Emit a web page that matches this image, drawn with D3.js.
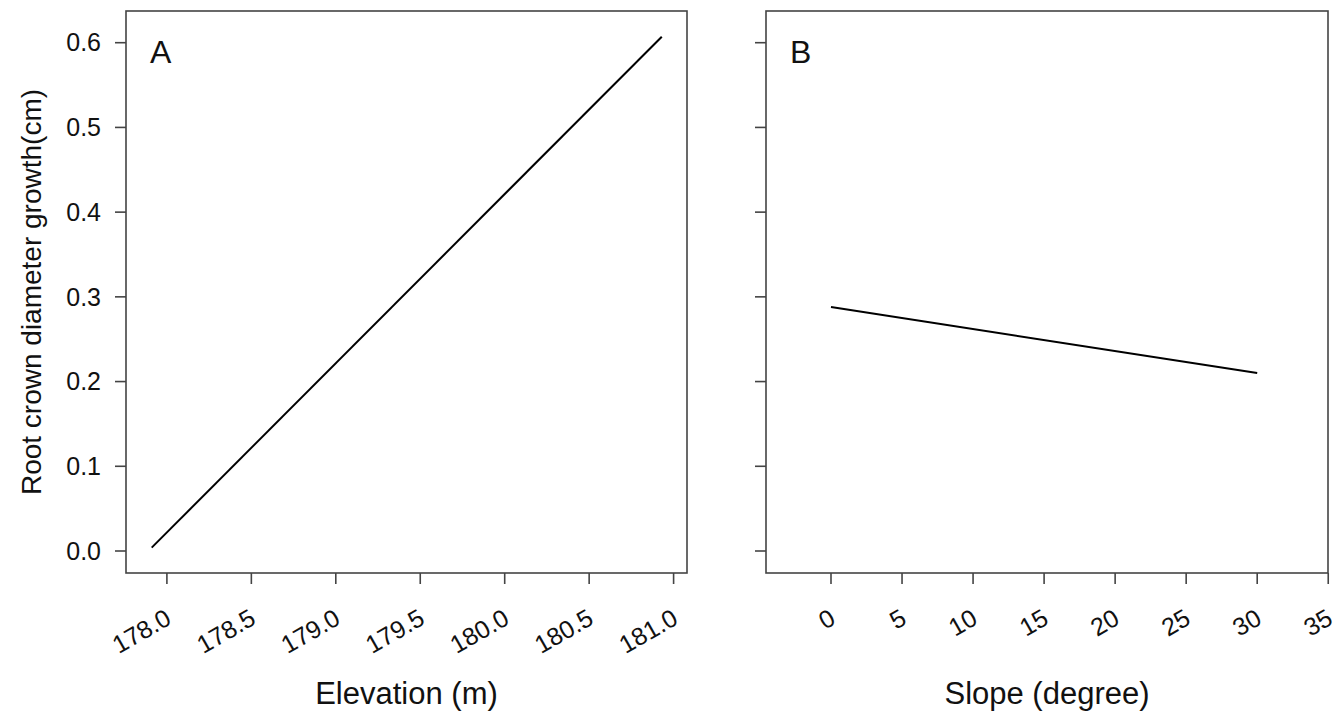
<!DOCTYPE html>
<html><head><meta charset="utf-8">
<script src="https://cdn.jsdelivr.net/npm/d3@7"></script>
<style>body{margin:0;background:#fff;} text{font-family:"Liberation Sans",Arial,sans-serif;fill:#111;}</style>
</head><body>
<svg id="c" width="1340" height="713"></svg>
<script>
// Data
const elevationX = [177.91, 180.93];
const elevationY = [0.004, 0.607];
const slopeX = [0, 30];
const slopeY = [0.288, 0.210];
const yTicks = [0.0, 0.1, 0.2, 0.3, 0.4, 0.5, 0.6];
const elevTicks = [178.0, 178.5, 179.0, 179.5, 180.0, 180.5, 181.0];
const slopeTicks = [0, 5, 10, 15, 20, 25, 30, 35];
const panelLabels = ["A", "B"];
const xTitles = ["Elevation (m)", "Slope (degree)"];
const yTitle = "Root crown diameter growth(cm)";

(function () {
const svg = d3.select("#c");
const plotTop = 11, plotBottom = 573;
const y = d3.scaleLinear().domain([0, 0.6]).range([551, 42.7]);

const panels = [
  {x0:126, x1:687, dom:[178.0, 181.0], rng:[166.9, 673.6], ticks:elevTicks, fmt:d3.format(".1f"), xs:elevationX, ys:elevationY, showY:true},
  {x0:766, x1:1328, dom:[0, 30], rng:[831, 1257.2], ticks:slopeTicks, fmt:d3.format("d"), xs:slopeX, ys:slopeY, showY:false}
];

panels.forEach((p, i) => {
  const x = d3.scaleLinear().domain(p.dom).range(p.rng);
  const g = svg.append("g");
  const line = d3.line().x(d => x(d[0])).y(d => y(d[1]));
  g.append("path").datum(p.xs.map((v, k) => [v, p.ys[k]]))
    .attr("d", line).attr("fill", "none").attr("stroke", "#000").attr("stroke-width", 2);
  g.append("rect").attr("x", p.x0).attr("y", plotTop).attr("width", p.x1 - p.x0).attr("height", plotBottom - plotTop)
    .attr("fill", "none").attr("stroke", "#444").attr("stroke-width", 1.6);
  yTicks.forEach(t => {
    g.append("line").attr("x1", p.x0 - 11).attr("x2", p.x0).attr("y1", y(t)).attr("y2", y(t))
      .attr("stroke", "#444").attr("stroke-width", 1.6);
    if (p.showY) {
      g.append("text").attr("x", p.x0 - 25).attr("y", y(t)).attr("dy", "0.35em")
        .attr("text-anchor", "end").attr("font-size", 25).text(d3.format(".1f")(t));
    }
  });
  p.ticks.forEach(t => {
    const xx = x(t);
    g.append("line").attr("x1", xx).attr("x2", xx).attr("y1", plotBottom).attr("y2", plotBottom + 11)
      .attr("stroke", "#444").attr("stroke-width", 1.6);
    g.append("text").attr("transform", `translate(${xx + 6},${plotBottom + 50}) rotate(-30)`)
      .attr("text-anchor", "end").attr("font-size", 25).text(p.fmt(t));
  });
  g.append("text").attr("x", p.x0 + 24).attr("y", 63).attr("font-size", 32).text(panelLabels[i]);
  g.append("text").attr("x", (p.x0 + p.x1) / 2).attr("y", 704).attr("text-anchor", "middle")
    .attr("font-size", 31).text(xTitles[i]);
});

svg.append("text").attr("transform", `translate(41,${(plotTop + plotBottom) / 2}) rotate(-90)`)
  .attr("text-anchor", "middle").attr("font-size", 28).text(yTitle);
})();
</script>
</body></html>
